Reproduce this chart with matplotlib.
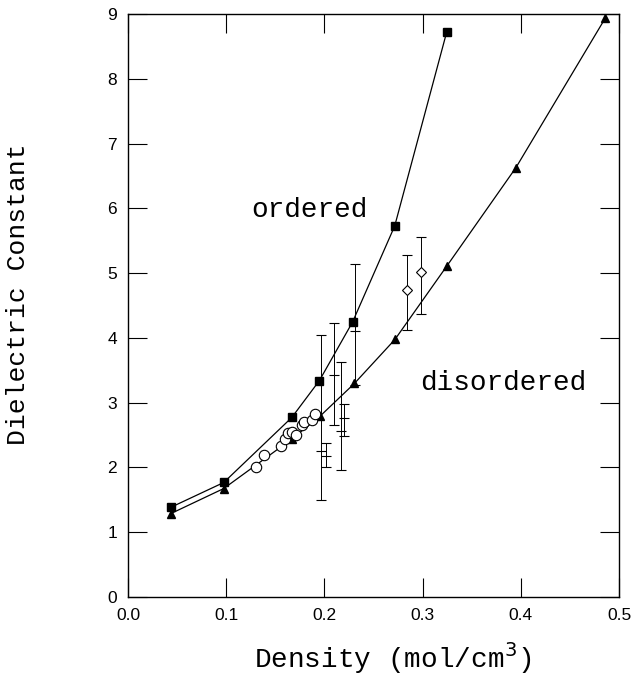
import numpy as np
import matplotlib
matplotlib.use("Agg")
import matplotlib.pyplot as plt

# ordered phase (filled squares)
ord_x = [0.0434, 0.0975, 0.1668, 0.1949, 0.2287, 0.2716, 0.3246]
ord_y = [1.38, 1.765, 2.77, 3.34, 4.246, 5.73, 8.73]

# disordered phase (filled triangles)
dis_x = [0.0434, 0.0975, 0.1668, 0.1959, 0.2305, 0.2718, 0.3249, 0.395, 0.486]
dis_y = [1.283, 1.672, 2.437, 2.795, 3.295, 3.975, 5.115, 6.63, 8.94]

# open circles
circ_x = [0.1305, 0.1386, 0.1558, 0.1594, 0.163, 0.1665, 0.1706, 0.1767, 0.1797, 0.1878, 0.1904]
circ_y = [2.01, 2.19, 2.33, 2.43, 2.53, 2.54, 2.50, 2.66, 2.70, 2.73, 2.83]

# open diamonds with error bars
diam_x = [0.2846, 0.2988]
diam_y = [4.745, 5.015]
diam_lo = [4.12, 4.375]
diam_hi = [5.28, 5.565]

# bare error bars
eb_x = [0.1963, 0.2017, 0.2096, 0.2167, 0.2203, 0.2313]
eb_y = [2.25, 2.17, 3.42, 2.565, 2.755, 4.11]
eb_lo = [1.49, 2.00, 2.66, 1.96, 2.49, 3.27]
eb_hi = [4.04, 2.37, 4.23, 3.63, 2.985, 5.14]

mono = "Liberation Mono"
plt.rcParams["font.family"] = "Liberation Sans"

fig = plt.figure(figsize=(6.36, 6.77), dpi=100)
ax = fig.add_axes([0.2013, 0.1186, 0.7720, 0.8603])

ax.plot(ord_x, ord_y, color="black", lw=0.9, marker="s", ms=5.8, mfc="black", mec="black")
ax.plot(dis_x, dis_y, color="black", lw=0.9, marker="^", ms=6, mfc="black", mec="black")
ax.plot(circ_x, circ_y, ls="none", marker="o", ms=7.5, mfc="white", mec="black", mew=0.8)

eb_err = [np.array(eb_y) - np.array(eb_lo), np.array(eb_hi) - np.array(eb_y)]
ax.errorbar(eb_x, eb_y, yerr=eb_err, fmt="_", color="black", ms=7, mew=0.8,
            elinewidth=0.7, capsize=3.6, capthick=0.7)

d_err = [np.array(diam_y) - np.array(diam_lo), np.array(diam_hi) - np.array(diam_y)]
ax.errorbar(diam_x, diam_y, yerr=d_err, fmt="D", color="black", ms=5, mfc="white",
            mec="black", mew=0.8, elinewidth=0.7, capsize=3.6, capthick=0.7)

ax.text(0.185, 5.98, "ordered", family=mono, fontsize=20, ha="center", va="center")
ax.text(0.297, 3.3, "disordered", family=mono, fontsize=20, ha="left", va="center")

ax.set_xlim(0.0, 0.5)
ax.set_ylim(0, 9)
ax.set_xticks(np.arange(0, 0.51, 0.1))
ax.set_yticks(range(0, 10))
ax.set_xticklabels(["0.0", "0.1", "0.2", "0.3", "0.4", "0.5"])
ax.tick_params(direction="in", length=13.5, width=0.8, top=True, right=True,
               labelsize=12.5, pad=8)
for sp in ax.spines.values():
    sp.set_linewidth(1.0)

ax.set_xlabel("Density (mol/cm$^3$)", family=mono, fontsize=20)
ax.set_ylabel("Dielectric Constant", family=mono, fontsize=19)
ax.xaxis.set_label_coords(0.538, -0.075)
ax.yaxis.set_label_coords(-0.2, 0.52)

fig.savefig("out.png", dpi=100)
